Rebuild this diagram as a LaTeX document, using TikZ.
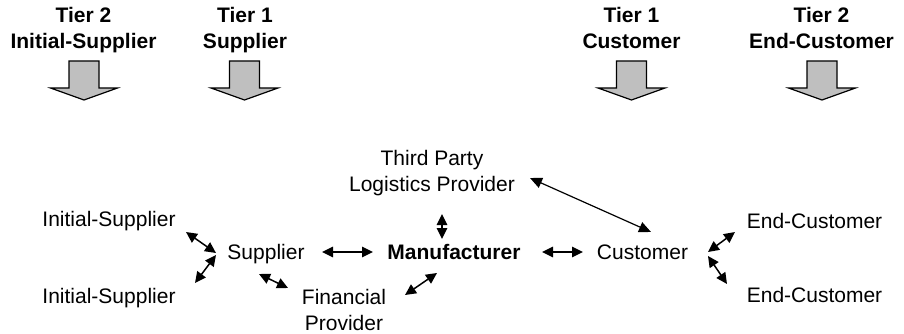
\documentclass[tikz,border=0pt]{standalone}
\usepackage{fontspec}
\setmainfont{Liberation Sans}
\usetikzlibrary{arrows.meta}
\begin{document}
\begin{tikzpicture}[x=1pt,y=-1pt,
  lbl/.style={font=\fontsize{21}{25.5}\selectfont, inner sep=0pt, anchor=base, align=center},
  tier/.style={lbl, font=\fontsize{21}{26}\selectfont\bfseries},
  link/.style={{Triangle[length=11pt,width=10.5pt]}-{Triangle[length=11pt,width=10.5pt]}, line width=1.5pt},
  thinlink/.style={{Triangle[length=12pt,width=10.5pt]}-{Triangle[length=12pt,width=10.5pt]}, line width=1.2pt},
  blockarrow/.style={fill=black!25, draw=black, line width=1.2pt, line join=miter}
]
\useasboundingbox (0,0) rectangle (904,334);

% tier headings (anchor = baseline of last line)
\node[tier] (h1) at (83.5,49) {Tier 2\\Initial-Supplier};
\node[tier] (h2) at (245,49) {Tier 1\\Supplier};
\node[tier] (h3) at (631.5,49) {Tier 1\\Customer};
\node[tier] (h4) at (821.5,49) {Tier 2\\End-Customer};

% block arrows
\foreach \xx in {84,244.5,631.5,822}{
  \draw[blockarrow, shift={(\xx,0)}] (-15,61) -- (15,61) -- (15,88) -- (33.5,88) -- (0,100) -- (-33.5,88) -- (-15,88) -- cycle;
}

% nodes
\node[lbl] (is1) at (109,226) {Initial-Supplier};
\node[lbl] (is2) at (109,303) {Initial-Supplier};
\node[lbl] (sup) at (266,259) {Supplier};
\node[lbl, font=\fontsize{21}{25.5}\selectfont\bfseries] (man) at (454,259) {Manufacturer};
\node[lbl] (cus) at (642.5,259) {Customer};
\node[lbl] (ec1) at (814.5,228) {End-Customer};
\node[lbl] (ec2) at (814.5,302) {End-Customer};
\node[lbl] (tpl) at (432,191) {Third Party\\Logistics Provider};
\node[lbl] (fin) at (344,330) {Financial\\Provider};

% connector ends
\coordinate (c1a) at (186,232); \coordinate (c1b) at (216,253);
\coordinate (c2a) at (195,283); \coordinate (c2b) at (216,255);
\coordinate (c3a) at (322,252); \coordinate (c3b) at (373,252);
\coordinate (c4a) at (259,274); \coordinate (c4b) at (288,288);
\coordinate (c5a) at (405,295); \coordinate (c5b) at (437,273);
\coordinate (c6a) at (442,214); \coordinate (c6b) at (442,239);
\coordinate (c7a) at (542,252); \coordinate (c7b) at (583,252);
\coordinate (c8a) at (530,178); \coordinate (c8b) at (651,232);
\coordinate (c9a) at (708,252); \coordinate (c9b) at (735,232);
\coordinate (c10a) at (708,256); \coordinate (c10b) at (727,284);

\draw[link] (c1a) -- (c1b);
\draw[link] (c2a) -- (c2b);
\draw[link] (c3a) -- (c3b);
\draw[link] (c4a) -- (c4b);
\draw[link] (c5a) -- (c5b);
\draw[link] (c6a) -- (c6b);
\draw[link] (c7a) -- (c7b);
\draw[thinlink] (c8a) -- (c8b);
\draw[link] (c9a) -- (c9b);
\draw[link] (c10a) -- (c10b);
\end{tikzpicture}
\end{document}
